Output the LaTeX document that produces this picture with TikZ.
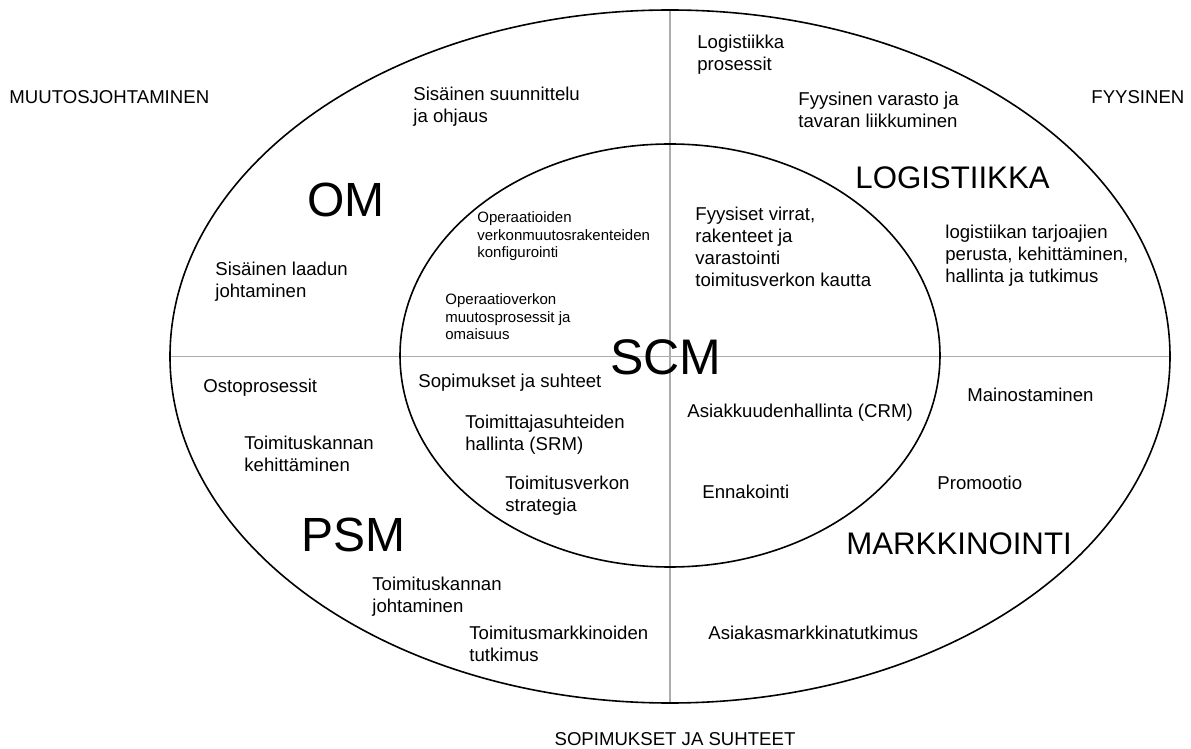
\documentclass[tikz,border=0pt]{standalone}
\usepackage{fontspec}
\setmainfont{Liberation Sans}
\usetikzlibrary{shapes.geometric,backgrounds}
\tikzset{
  ringline/.style={draw=black, line width=0.8pt, ellipse, inner sep=0pt},
  divline/.style={draw=gray!65, line width=0.6pt},
  % multi-line text sits on the baseline of its last line
  txt/.style={anchor=base west, align=left, inner sep=0pt, font=\fontsize{9.3}{11}\selectfont},
}

\begin{document}
\begin{tikzpicture}[
  x=0.5pt, y=-0.5pt,
  subtxt/.style={txt, font=\fontsize{7.5}{8.75}\selectfont},
  areaname/.style={anchor=base west, inner sep=0pt, font=\fontsize{15.6}{18}\selectfont},
  corename/.style={anchor=base west, inner sep=0pt, font=\fontsize{24}{28}\selectfont},
]
  \useasboundingbox (0,0) rectangle (1191,749);

  % the two rings
  \node[ringline, minimum width=500pt, minimum height=346.5pt] (outer) at (670,356.5) {};
  \node[ringline, minimum width=270pt, minimum height=211.5pt] (inner) at (670,355.5) {};
  \begin{scope}[on background layer]
    \draw[divline] (outer.west) -- (outer.east);
    \draw[divline] (outer.north) -- (outer.south);
  \end{scope}

  % labels outside the rings
  \node[txt] (muutos) at (9,104) {MUUTOSJOHTAMINEN};
  \node[txt] (fyysinen) at (1091,104) {FYYSINEN};
  \node[txt, anchor=base] (sopsuht) at (675,745) {SOPIMUKSET JA SUHTEET};

  % quadrant names
  \node[corename] (om) at (307,217) {OM};
  \node[corename] (psm) at (301,552) {PSM};
  \node[areaname] (logi) at (855,189) {LOGISTIIKKA};
  \node[areaname] (mark) at (846,554) {MARKKINOINTI};
  \node[anchor=base west, inner sep=0pt, font=\fontsize{25}{29}\selectfont] (scm) at (610,374) {SCM};

  % OM
  \node[txt] (suunn) at (413,123) {Sisäinen suunnittelu\\ja ohjaus};
  \node[txt] (laatu) at (215,298) {Sisäinen laadun\\johtaminen};
  \node[subtxt] (opconf) at (477,258) {Operaatioiden\\verkonmuutosrakenteiden\\konfigurointi};
  \node[subtxt] (opmuut) at (445,340) {Operaatioverkon\\muutosprosessit ja\\omaisuus};

  % logistiikka
  \node[txt] (logproc) at (697,71) {Logistiikka\\prosessit};
  \node[txt] (varasto) at (798,128) {Fyysinen varasto ja\\tavaran liikkuminen};
  \node[txt] (virrat) at (695,287) {Fyysiset virrat,\\rakenteet ja\\varastointi\\toimitusverkon kautta};
  \node[txt] (tarjo) at (945,283) {logistiikan tarjoajien\\perusta, kehittäminen,\\hallinta ja tutkimus};

  % PSM
  \node[txt] (osto) at (203,393) {Ostoprosessit};
  \node[txt] (kehit) at (244,472) {Toimituskannan\\kehittäminen};
  \node[txt] (johto) at (372,612) {Toimituskannan\\johtaminen};
  \node[txt] (tmtutk) at (469,661) {Toimitusmarkkinoiden\\tutkimus};
  \node[txt] (sopim) at (418,387) {Sopimukset ja suhteet};
  \node[txt] (srm) at (465,451) {Toimittajasuhteiden\\hallinta (SRM)};
  \node[txt] (strat) at (505,511) {Toimitusverkon\\strategia};

  % markkinointi
  \node[txt] (crm) at (687,417) {Asiakkuudenhallinta (CRM)};
  \node[txt] (ennak) at (702,498) {Ennakointi};
  \node[txt] (mainos) at (967,401) {Mainostaminen};
  \node[txt] (promo) at (937,489) {Promootio};
  \node[txt] (amtutk) at (708,639) {Asiakasmarkkinatutkimus};
\end{tikzpicture}
\end{document}
